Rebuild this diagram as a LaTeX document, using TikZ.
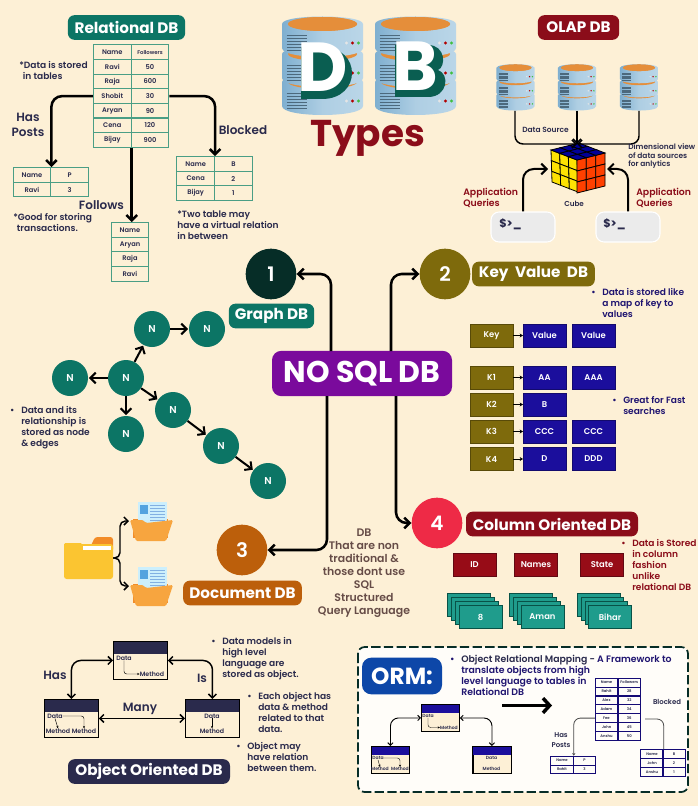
\documentclass[tikz,border=0pt]{standalone}
\usepackage{fontspec}
\setmainfont{Poppins}
\newfontfamily\semi{Poppins SemiBold}
\usetikzlibrary{arrows.meta,calc}

\definecolor{bgcream}{HTML}{FDF0D6}
\definecolor{tealdark}{HTML}{0C7565}
\definecolor{tabgreen}{HTML}{4A9E85}
\definecolor{inknavy}{HTML}{2A2A4C}
\definecolor{wine}{HTML}{8B0D1A}
\definecolor{olive}{HTML}{7E6A0C}
\definecolor{valblue}{HTML}{1B0E9C}
\definecolor{notenavy}{HTML}{1F1470}
\definecolor{purpcore}{HTML}{7A0A9C}
\definecolor{redfour}{HTML}{EE2A46}
\definecolor{brownthree}{HTML}{BC5F0B}
\definecolor{deepone}{HTML}{062D27}
\definecolor{ormblue}{HTML}{0D47A8}
\definecolor{stackteal}{HTML}{1F9C8C}
\definecolor{dbblue}{HTML}{7FAFD0}
\definecolor{dblight}{HTML}{BAD6E8}
\definecolor{dborange}{HTML}{E58E3A}
\definecolor{folderyellow}{HTML}{FBC531}
\definecolor{foldertab}{HTML}{F28C28}
\definecolor{foldersmall}{HTML}{F7A53F}

\tikzset{
  conn/.style={line width=1.9pt,rounded corners=8pt,-{Straight Barb[length=4pt,width=8pt]}},
  thinconn/.style={line width=1.1pt,rounded corners=6pt,-{Straight Barb[length=3pt,width=6pt]}},
  biconn/.style={line width=1.1pt,rounded corners=7pt,{Straight Barb[length=3pt,width=6pt]}-{Straight Barb[length=3pt,width=6pt]}},
  minibi/.style={line width=.7pt,rounded corners=6pt,{Straight Barb[length=2pt,width=4pt]}-{Straight Barb[length=2pt,width=4pt]}},
  minilink/.style={line width=.35pt,rounded corners=2pt,-{Stealth[length=1.8pt,width=1.6pt]}},
  cell/.style={draw=tabgreen,line width=.8pt,minimum width=28.3pt,minimum height=11pt,inner sep=0,font=\semi\fontsize{5}{6}\selectfont,text=inknavy},
  smallcell/.style={draw=valblue!75!black,line width=.6pt,minimum height=6.6pt,inner sep=0,font=\semi\fontsize{2.8}{3}\selectfont,text=inknavy},
  badge/.style={rounded corners=5pt,minimum height=18.5pt,inner sep=0,text=white,font=\bfseries\fontsize{11.4}{12}\selectfont},
  note/.style={anchor=west,align=left,inner sep=0,text=inknavy,font=\semi\fontsize{6.8}{8.25}\selectfont},
  label/.style={align=center,inner sep=0,text=inknavy,font=\semi\fontsize{9}{11.2}\selectfont},
  numdisc/.style={circle,minimum size=38pt,inner sep=0,text=white,font=\semi\fontsize{15}{16}\selectfont},
  graphnode/.style={circle,fill=tealdark,minimum size=27pt,inner sep=0,text=white,font=\semi\fontsize{7.5}{8}\selectfont},
  keycell/.style={fill=olive,draw=olive!70!black,line width=.3pt,minimum width=32pt,minimum height=17pt,inner sep=0,text=white,font=\semi\fontsize{6.3}{7}\selectfont},
  valcell/.style={fill=valblue,draw=valblue!70!black,line width=.3pt,minimum width=32pt,minimum height=17pt,inner sep=0,text=white,font=\semi\fontsize{6.3}{7}\selectfont},
  colhead/.style={fill=wine!90!red,draw=wine!70!black,line width=.3pt,minimum width=32pt,minimum height=17pt,inner sep=0,text=white,font=\semi\fontsize{6.3}{7}\selectfont},
  colcell/.style={fill=stackteal,draw=tealdark!70!black,line width=.5pt,minimum width=32pt,minimum height=17pt,inner sep=0,text=white,font=\semi\fontsize{6.3}{7}\selectfont},
  objbody/.style={draw=black,fill=bgcream,line width=.7pt,inner sep=0,anchor=north west},
  objtext/.style={inner sep=0,text=inknavy,font=\semi\fontsize{4.7}{5}\selectfont},
  minitext/.style={inner sep=0,text=inknavy,font=\semi\fontsize{3.4}{4}\selectfont},
  cubeline/.style={draw=black,line width=.6pt},
  dbstack/.pic={
    \foreach \t in {66,38,8} {
      \shade[left color=dbblue,right color=dblight,middle color=dblight!80!dbblue] (-40.5,\t) -- (-40.5,\t+24) .. controls (-40.5,\t+36) and (40.5,\t+36) .. (40.5,\t+24) -- (40.5,\t) .. controls (40.5,\t-10) and (-40.5,\t-10) .. (-40.5,\t) -- cycle;
      \fill[dborange] (0,\t) ellipse (34.5 and 7);
      \foreach \j in {0,1,2,3,4,5} \draw[dbblue!60!black,line width=.35pt] (-36,\t+11+\j*3) -- (-16,\t+11+\j*3);
      \fill[white!80!gray] (24,\t+19) circle (1.7);
      \fill[red!70!black] (30,\t+19) circle (1.7);
      \fill[green!50!gray] (36,\t+19) circle (1.7);
    }
    \fill[dborange] (0,8) ellipse (34.5 and 7);
  }
}

\newcommand{\objframe}[7]{%
  \node[objbody,minimum width=#4*.75pt,minimum height=#5*.75pt] (#1) at (#2,#3) {};
  \fill[#7] (#1.north west) rectangle ($(#1.north east)+(0,#6)$);
  \draw[line width=.7pt] (#1.north west) rectangle (#1.south east);
}
\newcommand{\cubeface}[7]{%
  \foreach \u in {0,1,2} \foreach \v in {0,1,2}
    \draw[cubeline,fill=#7] ({#1+#3*\u/3+#5*\v/3},{#2+#4*\u/3+#6*\v/3}) -- ({#1+#3*(\u+1)/3+#5*\v/3},{#2+#4*(\u+1)/3+#6*\v/3}) -- ({#1+#3*(\u+1)/3+#5*(\v+1)/3},{#2+#4*(\u+1)/3+#6*(\v+1)/3}) -- ({#1+#3*\u/3+#5*(\v+1)/3},{#2+#4*\u/3+#6*(\v+1)/3}) -- cycle;
}
\newcommand{\bul}{\llap{\textbullet\hspace{5pt}}}

\begin{document}
\begin{tikzpicture}[x=0.75pt,y=0.75pt,yscale=-1,xscale=1]
\useasboundingbox (0,0) rectangle (698,806);
\fill[bgcream] (0,0) rectangle (698,806);

%Relational tables
\node[badge,fill=tealdark,minimum width=88pt] (relbadge) at (126.5,27.5) {Relational DB};
\foreach \i/\a/\b in {0/Name/Followers,1/Ravi/50,2/Raja/600,3/Shobit/30,4/Aryan/90,5/Cena/120,6/Bijay/900} {
  \node[cell] (ra\i) at (112.3,{52.3+14.6*\i}) {\a};
  \node[cell] (rb\i) at (150,{52.3+14.6*\i}) {\ifnum\i=0 \fontsize{4}{5}\selectfont\fi\b};
}
\foreach \i/\a/\b in {0/Name/P,1/Ravi/3} {
  \node[cell] (pa\i) at (32,{175+14.6*\i}) {\a};
  \node[cell] (pb\i) at (69.7,{175+14.6*\i}) {\b};
}
\foreach \i/\a in {0/Name,1/Aryan,2/Raja,3/Ravi}
  \node[cell] (fo\i) at (130,{230+14.6*\i}) {\a};
\foreach \i/\a/\b in {0/Name/B,1/Cena/2,2/Bijay/1} {
  \node[cell] (ba\i) at (195.7,{164+14.6*\i}) {\a};
  \node[cell] (bb\i) at (233.4,{164+14.6*\i}) {\b};
}
\draw[conn] (ra3.west) -| (pa0.north east);
\draw[conn] (rb3.east) -| (ba0.north east);
\draw[conn] (ra6.south east) -- (ra6.south east |- fo0.north);

\node[note] (relnote) at (19,70.5) {*Data is stored\\\ \,in tables};
\node[label] (hasposts) at (28,124.5) {Has\\Posts};
\node[label] (follows) at (101.5,205) {Follows};
\node[label] (blocked) at (243,130) {Blocked};
\node[note] (goodnote) at (13,222.5) {*Good for storing\\\ \,transactions.};
\node[note] (twonote) at (177,225.5) {*Two table may\\have a virtual relation\\in between};

%DB title
\pic[transform shape] at (322.5,16) {dbstack};
\pic[transform shape] at (415.5,16) {dbstack};
\fill[tealdark!80!black] (301,47) -- (322,47) .. controls (362,47) and (362,99) .. (322,99) -- (301,99) -- cycle;
\fill[tealdark!80!black] (395,45) -- (428,45) .. controls (446,45) and (446,67) .. (438,70) .. controls (450,74) and (448,97) .. (428,97) -- (395,97) -- cycle;
\node[inner sep=0,text=white,font=\bfseries\fontsize{52}{52}\selectfont] (letterd) at (323,67.5) {D};
\node[inner sep=0,text=white,font=\bfseries\fontsize{52}{52}\selectfont] (letterb) at (415.5,66.5) {B};
\node[inner sep=0,text=wine,font=\bfseries\fontsize{28}{30}\selectfont] (typestitle) at (367.5,138) {Types};

%OLAP
\node[badge,fill=wine,minimum width=61pt] (olapbadge) at (578.5,27.5) {OLAP DB};
\pic[transform shape,scale=.47] at (515.5,64) {dbstack};
\pic[transform shape,scale=.47] at (577,64) {dbstack};
\pic[transform shape,scale=.47] at (639,64) {dbstack};
\coordinate (dbl) at (515,111);
\coordinate (dbm) at (577,111);
\coordinate (dbr) at (639,111);
\coordinate (cubeback) at (577,144);
\coordinate (cubel) at (548,169);
\coordinate (cuber) at (607,169);
\cubeface{551}{150}{26}{10}{1}{32}{yellow!85!orange}
\cubeface{577}{160}{28}{-7}{0}{33}{orange!50!red}
\cubeface{551}{150}{26}{10}{28}{-7}{blue!60!black}
\draw[thinconn] (dbl) |- (cubeback);
\draw[thinconn] (dbr) |- (cubeback);
\draw[thinconn] (dbm) -- (cubeback);
\node[note,font=\semi\fontsize{5.6}{6.4}\selectfont] (sourcelab) at (522,130) {Data Source};
\node[note,font=\semi\fontsize{5.6}{6.4}\selectfont] (dimnote) at (628,156.5) {Dimensional view\\of data sources\\for anlytics};
\node[note,text=wine,font=\semi\fontsize{7}{8.2}\selectfont] (appa) at (463,197.5) {Application\\Queries};
\node[note,text=wine,font=\semi\fontsize{7}{8.2}\selectfont] (appb) at (636,197.5) {Application\\Queries};
\node[note,font=\semi\fontsize{5.4}{6.4}\selectfont] (cubelab) at (564,203.5) {Cube};
\node[fill=gray!16,draw=white,line width=.8pt,rounded corners=6pt,minimum width=48pt,minimum height=22.5pt] (terma) at (523,227) {};
\node[fill=gray!16,draw=white,line width=.8pt,rounded corners=6pt,minimum width=48pt,minimum height=22.5pt] (termb) at (628,227) {};
\node[note,font=\bfseries\fontsize{8.5}{9}\selectfont] (prompta) at (499,224) {\$>\_};
\node[note,font=\bfseries\fontsize{8.5}{9}\selectfont] (promptb) at (603,224) {\$>\_};
\draw[conn,line width=1.5pt] (terma.north) |- (cubel);
\draw[conn,line width=1.5pt] (termb.north) |- (cuber);

%No SQL core and the four branches
\node[rounded corners=7pt,fill=purpcore,minimum width=135pt,minimum height=34pt,inner sep=0,text=white,font=\bfseries\fontsize{22.5}{23}\selectfont] (nosql) at (362,373.5) {NO SQL DB};
\node[numdisc,fill=deepone] (one) at (271,274) {1};
\node[numdisc,fill=olive] (two) at (445,274) {2};
\node[numdisc,fill=brownthree] (three) at (242,550) {3};
\node[numdisc,fill=redfour] (four) at (437,523) {4};
\coordinate (outone) at (331,351);
\coordinate (outtwo) at (391,351);
\coordinate (outthree) at (327,396);
\coordinate (outfour) at (396,396);
\draw[conn] (outone) |- (one);
\draw[conn] (outtwo) |- (two);
\draw[conn] (outthree) |- (three);
\draw[conn] (outfour) |- (four);
\node[badge,fill=tealdark,minimum width=64pt] (graphbadge) at (271.5,316) {Graph DB};
\node[badge,fill=olive,minimum width=92pt] (kvbadge) at (533.5,274) {Key\ \ Value\ \ DB};
\node[badge,fill=wine,minimum width=129pt] (colbadge) at (552,524) {Column Oriented DB};
\node[badge,fill=brownthree,minimum width=89pt] (docbadge) at (242.5,593) {Document DB};
\node[label,font=\semi\fontsize{8.2}{9.75}\selectfont,text=inknavy!60!brown] (nosqlnote) at (364,573) {DB\\That are non\\traditional \&\\those dont use\\SQL\\Structured\\Query Language};

%Graph
\node[graphnode] (nup) at (152,329) {N};
\node[graphnode] (nright) at (207,329) {N};
\node[graphnode] (nmid) at (126,378) {N};
\node[graphnode] (nleft) at (70,378) {N};
\node[graphnode] (ndown) at (126,434) {N};
\node[graphnode] (nda) at (173,410) {N};
\node[graphnode] (ndb) at (221,446) {N};
\node[graphnode] (ndc) at (268,481) {N};
\foreach \a/\b in {nmid/nup,nup/nright,nmid/nleft,nmid/ndown,nmid/nda,nda/ndb,ndb/ndc}
  \draw[conn,line width=1.5pt,shorten >=.5pt] (\a) -- (\b);
\node[note] (graphnote) at (21,427.5) {\bul Data and its\\relationship is\\stored as node\\\& edges};

%Key value
\foreach \i/\y/\k/\a/\b in {h/335.5/Key/Value/Value,a/377.5/K1/AA/AAA,c/431.5/K3/CCC/CCC,d/459/K4/D/DDD} {
  \node[keycell] (key\i) at (491.5,\y) {\k};
  \node[valcell] (vala\i) at (544.5,\y) {\a};
  \node[valcell] (valb\i) at (593.5,\y) {\b};
  \draw[line width=.7pt,-{Stealth[length=2.5pt,width=3pt]}] (key\i) -- (vala\i);
}
\node[keycell] (keyb) at (491.5,404.5) {K2};
\node[valcell] (valab) at (544.5,404.5) {B};
\draw[line width=.7pt,-{Stealth[length=2.5pt,width=3pt]}] (keyb) -- (valab);
\node[note,text=notenavy] (kvnote) at (602,303) {\bul Data is stored like\\a map of key to\\values};
\node[note,text=notenavy] (fastnote) at (623,405.5) {\bul Great for Fast\\searches};

%Column oriented
\node[colhead] (colid) at (474.5,564.5) {ID};
\node[colhead] (colname) at (536,564.5) {Names};
\node[colhead] (colstate) at (602,564.5) {State};
\foreach \n/\x/\lab in {sid/480.5/8,sname/542.5/Aman,sstate/610/Bihar} {
  \foreach \k in {3,2,1}
    \node[colcell] (\n\k) at ({\x-\k*3.8},{617-\k*4}) {};
  \node[colcell] (\n) at (\x,617) {\lab};
}
\node[note,text=wine] (colnote) at (632,564.5) {\bul Data is Stored\\in column\\fashion\\unlike\\relational DB};

%Folders
\coordinate (fmain) at (113,558);
\coordinate (fsplit) at (120,558);
\coordinate (ftop) at (129,521);
\coordinate (fbot) at (129,586);
\fill[foldertab,rounded corners=2pt] (95,537) -- (113,537) -- (113,552) -- (88,552) -- cycle;
\fill[folderyellow,rounded corners=2pt] (64,544) -- (113,544) -- (113,579) -- (64,579) -- cycle;
\fill[white] (83,545.5) rectangle (111,550);
\fill[folderyellow,rounded corners=1pt] (64,543) -- (82,543) -- (83,551) -- (64,551) -- cycle;
\foreach \fy in {0,65} {
  \begin{scope}[shift={(0,\fy)}]
    \fill[foldertab] (133,519) rectangle (168,538);
    \fill[cyan!20!white] (138,502) rectangle (167,524);
    \fill[cyan!70!blue!70] (140,505) rectangle (148,514);
    \foreach \ly in {505,508,511,514,517,520} \draw[cyan!60!blue!50,line width=.5pt] (150,\ly) -- (165,\ly);
    \fill[foldersmall,rounded corners=1pt] (130,520) -- (143,520) -- (146,523) -- (173,520) -- (166,541) -- (136,541) -- cycle;
  \end{scope}
}
\draw[thinconn,rounded corners=4pt] (fmain) -- (fsplit) |- (ftop);
\draw[thinconn,rounded corners=4pt] (fmain) -- (fsplit) |- (fbot);

%Object oriented
\objframe{objtop}{113}{641}{54}{38}{13}{inknavy}
\objframe{objleft}{44}{699}{54}{38}{13}{inknavy}
\objframe{objright}{185}{699}{54}{38}{13}{inknavy}
\draw[biconn] (objtop.west) -| (objleft.north);
\draw[biconn] (objtop.east) -| (objright.north);
\draw[biconn] (objleft.east) -- (objright.west);
\node[objtext] (tdata) at (124,658) {Data};
\node[objtext] (tmeth) at (152,674) {Method};
\draw[minilink] (tdata.south) |- (tmeth.west);
\node[objtext] (ldata) at (55,716) {Data};
\node[objtext] (lmetha) at (58,731) {Method};
\node[objtext] (lmethb) at (84,731) {Method};
\draw[minilink] (ldata.south) -- (lmetha.north);
\draw[minilink] (ldata.east) -| (lmethb.north);
\node[objtext] (rdata) at (212,716) {Data};
\node[objtext] (rmeth) at (212,731) {Method};
\draw[minilink] (rdata.south) -- (rmeth.north);
\node[label] (haslab) at (55,675) {Has};
\node[label] (islab) at (202,678) {Is};
\node[label] (manylab) at (140,709) {Many};
\node[note] (objnotea) at (222,658.5) {\bul Data models in\\high level\\language are\\stored as object.};
\node[note] (objnoteb) at (258,712.5) {\bul Each object has\\data \& method\\related to that\\data.};
\node[note] (objnotec) at (247,757) {\bul Object may\\have relation\\between them.};
\node[badge,fill=inknavy,minimum width=121.5pt] (oodbadge) at (149,771.5) {Object Oriented DB};

%ORM
\draw[fill=white!85!bgcream,draw=deepone,line width=1.3pt,dash pattern=on 7pt off 2.5pt,rounded corners=5pt] (358,647) rectangle (688,792);
\node[badge,fill=ormblue,rounded corners=7pt,minimum width=60pt,minimum height=27.5pt,font=\bfseries\fontsize{17.5}{18}\selectfont] (ormbadge) at (402,676) {ORM:};
\node[note,text=notenavy,font=\semi\fontsize{7}{8.25}\selectfont] (ormnote) at (461,675.5) {\bul\textcolor{inknavy}{Object Relational Mapping -} A Framework to\\translate objects from high\\level language to tables in\\Relational DB};
\coordinate (bigfrom) at (502,705.5);
\coordinate (bigto) at (552,705.5);
\draw[line width=2.6pt,-{Straight Barb[length=5pt,width=11pt]}] (bigfrom) -- (bigto);
\objframe{mtop}{421}{704}{38}{27}{9}{valblue}
\objframe{mleft}{371}{746}{38}{27}{9}{valblue}
\objframe{mright}{472.5}{746}{38}{27}{9}{valblue}
\draw[minibi] (mtop.west) -| (mleft.north);
\draw[minibi] (mtop.east) -| (mright.north);
\node[minitext] (mtdata) at (428,716) {Data};
\node[minitext] (mtmeth) at (449,727.5) {Method};
\draw[minilink,line width=.3pt] (mtdata.south) |- (mtmeth.west);
\node[minitext] (mldata) at (378,758) {Data};
\node[minitext] (mlmetha) at (380,769) {Method};
\node[minitext] (mlmethb) at (400,769) {Method};
\draw[minilink,line width=.3pt] (mldata.south) -- (mlmetha.north);
\draw[minilink,line width=.3pt] (mldata.east) -| (mlmethb.north);
\node[minitext] (mrdata) at (491.5,758) {Data};
\node[minitext] (mrmeth) at (491.5,769) {Method};
\foreach \i/\a/\b in {0/Name/Followers,1/Rahit/28,2/Alex/32,3/Adam/34,4/Fee/36,5/John/45,6/Anshu/50} {
  \node[smallcell,minimum width=17pt] (sa\i) at (606.5,{682.5+8.9*\i}) {\a};
  \node[smallcell,minimum width=17pt] (sb\i) at (629.3,{682.5+8.9*\i}) {\b};
}
\foreach \i/\a/\b in {0/Name/P,1/Rahit/3} {
  \node[smallcell,minimum width=17pt] (spa\i) at (562,{760.5+8.9*\i}) {\a};
  \node[smallcell,minimum width=17pt] (spb\i) at (584.5,{760.5+8.9*\i}) {\b};
}
\foreach \i/\a/\b in {0/Name/B,1/John/2,2/Anshu/1} {
  \node[smallcell,minimum width=17pt] (sba\i) at (652,{754+8.9*\i}) {\a};
  \node[smallcell,minimum width=17pt] (sbb\i) at (674,{754+8.9*\i}) {\b};
}
\draw[gray!60!black,line width=.6pt,rounded corners=5pt,-{Stealth[length=2pt,width=2.5pt]}] (sa4.west) -| (spa0.north east);
\coordinate (sbout) at (645,719);
\draw[gray!60!black,line width=.6pt,rounded corners=5pt] (sbout) -| (sba0.north east);
\node[label,font=\semi\fontsize{5.2}{7.5}\selectfont] (smallposts) at (561,740) {Has\\Posts};
\node[label,font=\semi\fontsize{5.2}{7.5}\selectfont] (smallblocked) at (667,702) {Blocked};

\end{tikzpicture}
\end{document}
